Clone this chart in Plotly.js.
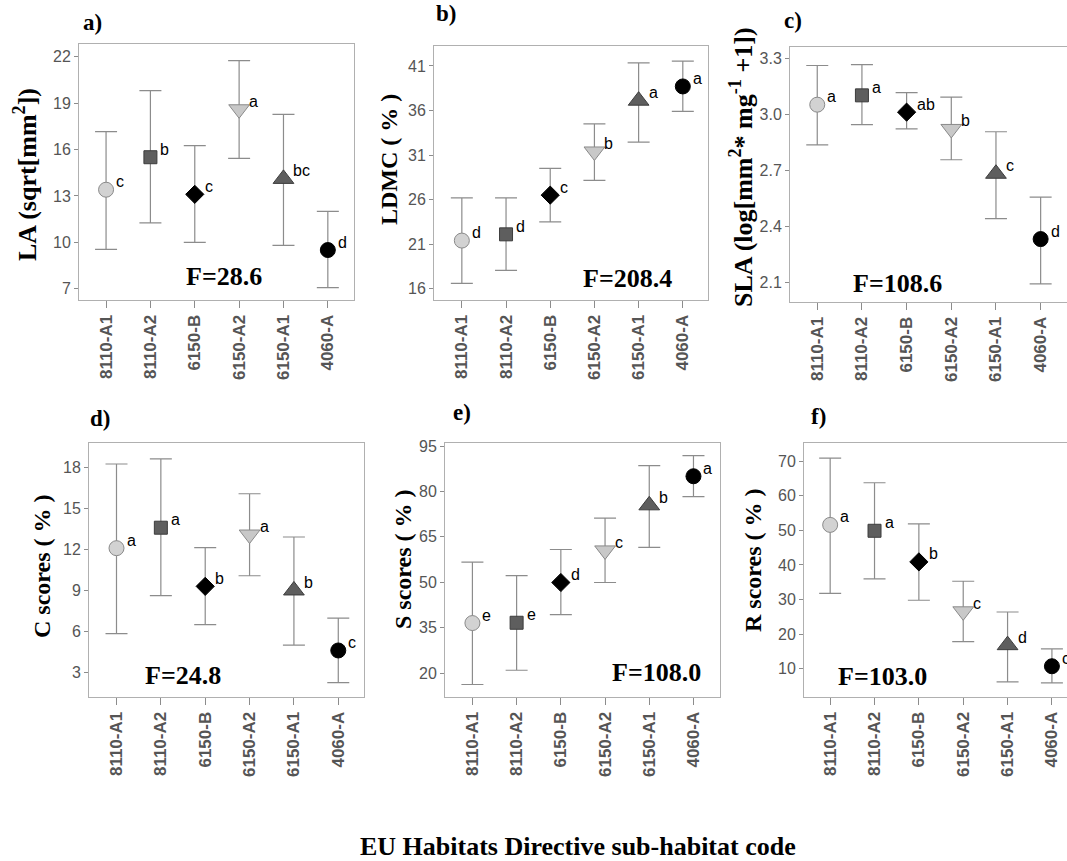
<!DOCTYPE html>
<html><head><meta charset="utf-8">
<script src="https://cdn.plot.ly/plotly-3.0.1.min.js"></script>
<style>html,body{margin:0;padding:0;background:#fff}</style>
</head><body><div id="chart" style="width:1067px;height:861px"></div>
<script>
// ---------------- DATA ----------------
const categories = ['8110-A1','8110-A2','6150-B','6150-A2','6150-A1','4060-A'];

const LA_mean  = [13.4, 15.5, 13.1, 18.6, 14.1, 9.5];
const LA_upper = [17.15, 19.8, 16.25, 21.75, 18.27, 12.0];
const LA_lower = [9.54, 11.25, 10.0, 15.43, 9.8, 7.07];
const LA_letters = ['c','b','c','a','bc','d'];

const LDMC_mean  = [21.4, 22.1, 26.5, 31.4, 37.1, 38.7];
const LDMC_upper = [26.2, 26.2, 29.5, 34.5, 41.35, 41.55];
const LDMC_lower = [16.6, 18.05, 23.5, 28.15, 32.45, 35.9];
const LDMC_letters = ['d','d','c','b','a','a'];

const SLA_mean  = [3.05, 3.10, 3.01, 2.92, 2.68, 2.33];
const SLA_upper = [3.26, 3.265, 3.115, 3.09, 2.905, 2.555];
const SLA_lower = [2.835, 2.943, 2.92, 2.755, 2.44, 2.09];
const SLA_letters = ['a','a','ab','b','c','d'];

const C_mean  = [12.1, 13.6, 9.3, 13.1, 9.0, 4.6];
const C_upper = [18.27, 18.64, 12.14, 16.09, 12.92, 6.97];
const C_lower = [5.83, 8.62, 6.49, 10.08, 5.0, 2.24];
const C_letters = ['a','a','b','a','b','c'];

const S_mean  = [36.5, 36.6, 49.9, 60.5, 75.4, 85.0];
const S_upper = [56.6, 52.2, 60.8, 71.2, 88.5, 91.8];
const S_lower = [16.2, 20.9, 39.3, 49.9, 61.5, 78.3];
const S_letters = ['e','e','d','c','b','a'];

const R_mean  = [51.6, 49.9, 40.9, 26.6, 16.8, 10.7];
const R_upper = [70.9, 63.8, 51.9, 35.3, 26.4, 15.7];
const R_lower = [31.8, 36.0, 29.8, 17.8, 6.2, 5.9];
const R_letters = ['a','a','b','c','d','c'];

const F_texts = ['F=28.6','F=208.4','F=108.6','F=24.8','F=108.0','F=103.0'];
const panel_labels = ['a)','b)','c)','d)','e)','f)'];
const y_titles = [
  'LA (sqrt[mm<sup>2</sup>])',
  'LDMC ( % )',
  'SLA (log[mm<sup>2</sup>* mg<sup>-1</sup> +1])',
  'C scores ( % )',
  'S scores ( % )',
  'R scores ( % )'
];
const x_title = 'EU Habitats Directive sub-habitat code';

// ---------------- STYLE / LAYOUT ----------------
const W = 1067, H = 861;
const px = x => x / W;
const py = y => 1 - y / H;

const symbols = ['circle','square','diamond','triangle-down','triangle-up','circle'];
const sizes   = [15, 13, 14, 18, 18, 15];
const fills   = ['#d2d2d2','#5e5e5e','#000000','#c8c8c8','#5e5e5e','#000000'];
const lines   = ['#8a8a8a','#3c3c3c','#000000','#8a8a8a','#3c3c3c','#000000'];

const panels = [
  {m:LA_mean, u:LA_upper, l:LA_lower, let:LA_letters, box:[79,354,44,300], xr:[-0.61,5.59], yr:[6.27,22.82], t0:7, dt:3, fmt:'',
   ytPos:[25,175], ytSize:26, lblPos:[92,22], fPos:[224,276]},
  {m:LDMC_mean, u:LDMC_upper, l:LDMC_lower, let:LDMC_letters, box:[434,708,46,300], xr:[-0.63,5.57], yr:[14.73,43.24], t0:16, dt:5, fmt:'',
   ytPos:[389,160], ytSize:24, lblPos:[446,14], fPos:[627,278]},
  {m:SLA_mean, u:SLA_upper, l:SLA_lower, let:SLA_letters, box:[790,1067,47,302], xr:[-0.61,5.59], yr:[1.993,3.359], t0:2.1, dt:0.3, fmt:'.1f',
   ytPos:[742,167], ytSize:26, lblPos:[793,20], fPos:[897,284]},
  {m:C_mean, u:C_upper, l:C_lower, let:C_letters, box:[89,364,443,697], xr:[-0.62,5.58], yr:[1.19,19.81], t0:3, dt:3, fmt:'',
   ytPos:[42,566], ytSize:24, lblPos:[100,418], fPos:[183,675]},
  {m:S_mean, u:S_upper, l:S_lower, let:S_letters, box:[445,720,443,697], xr:[-0.62,5.6], yr:[12.07,95.99], t0:20, dt:15, fmt:'',
   ytPos:[403,559], ytSize:24, lblPos:[462,412], fPos:[656,672]},
  {m:R_mean, u:R_upper, l:R_lower, let:R_letters, box:[804,1067,443,697], xr:[-0.59,5.34], yr:[1.8,75.3], t0:10, dt:10, fmt:'',
   ytPos:[753,560], ytSize:24, lblPos:[818,416], fPos:[882,676]}
];

const serif = 'Liberation Serif, Times New Roman, serif';
const sans = 'Liberation Sans, Arial, sans-serif';

const traces = [];
const layout = {
  width: W, height: H,
  margin: {l:0, r:0, t:0, b:0},
  paper_bgcolor: '#ffffff', plot_bgcolor: '#ffffff',
  showlegend: false,
  annotations: []
};

panels.forEach((p, i) => {
  const k = i === 0 ? '' : String(i + 1);
  const xa = 'x' + k, ya = 'y' + k;
  // error bars drawn as a separate, invisible-marker trace so they sit beneath markers
  traces.push({
    type: 'scatter', mode: 'markers',
    x: categories, y: p.m,
    xaxis: xa, yaxis: ya,
    cliponaxis: false,
    marker: {size: 1, opacity: 0, color: '#ffffff'},
    error_y: {
      type: 'data', symmetric: false,
      array: p.u.map((v, j) => v - p.m[j]),
      arrayminus: p.l.map((v, j) => p.m[j] - v),
      color: '#8c8c8c', thickness: 1.2, width: 11
    },
    hoverinfo: 'skip'
  });
  traces.push({
    type: 'scatter', mode: 'markers',
    x: categories, y: p.m,
    xaxis: xa, yaxis: ya,
    cliponaxis: false,
    marker: {symbol: symbols, size: sizes, color: fills, opacity: 1, line: {color: lines, width: 1}},
    hoverinfo: 'x+y'
  });
  layout['xaxis' + k] = {
    domain: [px(p.box[0]), px(p.box[1])],
    anchor: ya, type: 'category', categoryorder: 'array', categoryarray: categories,
    range: p.xr, showgrid: false, zeroline: false,
    showline: true, mirror: true, linecolor: '#b0b0b0', linewidth: 1,
    ticks: 'outside', ticklen: 7, tickcolor: '#8c8c8c', tickwidth: 1,
    tickangle: -90,
    tickfont: {family: sans, size: 17, color: '#555555', weight: 'bold'}
  };
  layout['yaxis' + k] = {
    domain: [py(p.box[3]), py(p.box[2])],
    anchor: xa, range: p.yr, tickmode: 'linear', tick0: p.t0, dtick: p.dt,
    tickformat: p.fmt, showgrid: false, zeroline: false,
    showline: true, mirror: true, linecolor: '#b0b0b0', linewidth: 1,
    ticks: 'outside', ticklen: 4, tickcolor: '#8c8c8c', tickwidth: 1,
    tickfont: {family: sans, size: 16, color: '#555555'}
  };
  // letters
  p.let.forEach((t, j) => {
    layout.annotations.push({
      xref: xa, yref: ya, x: categories[j], y: p.m[j], text: t, showarrow: false,
      xanchor: 'left', yanchor: 'middle', xshift: 8, yshift: 8,
      font: {family: sans, size: 16, color: '#000000'}
    });
  });
  // F value
  layout.annotations.push({
    xref: 'paper', yref: 'paper', x: px(p.fPos[0]), y: py(p.fPos[1]), text: F_texts[i],
    showarrow: false, xanchor: 'center', yanchor: 'middle',
    font: {family: serif, size: 26, color: '#000000', weight: 'bold'}
  });
  // panel label
  layout.annotations.push({
    xref: 'paper', yref: 'paper', x: px(p.lblPos[0]), y: py(p.lblPos[1]), text: panel_labels[i],
    showarrow: false, xanchor: 'center', yanchor: 'middle',
    font: {family: serif, size: 23, color: '#000000', weight: 'bold'}
  });
  // y title
  layout.annotations.push({
    xref: 'paper', yref: 'paper', x: px(p.ytPos[0]), y: py(p.ytPos[1]), text: y_titles[i],
    showarrow: false, xanchor: 'center', yanchor: 'middle', textangle: -90,
    font: {family: serif, size: p.ytSize, color: '#000000', weight: 'bold'}
  });
});

layout.annotations.push({
  xref: 'paper', yref: 'paper', x: px(578), y: py(846), text: x_title,
  showarrow: false, xanchor: 'center', yanchor: 'middle',
  font: {family: serif, size: 26, color: '#000000', weight: 'bold'}
});

Plotly.newPlot('chart', traces, layout, {displayModeBar: false, staticPlot: true});
</script>
</body></html>
